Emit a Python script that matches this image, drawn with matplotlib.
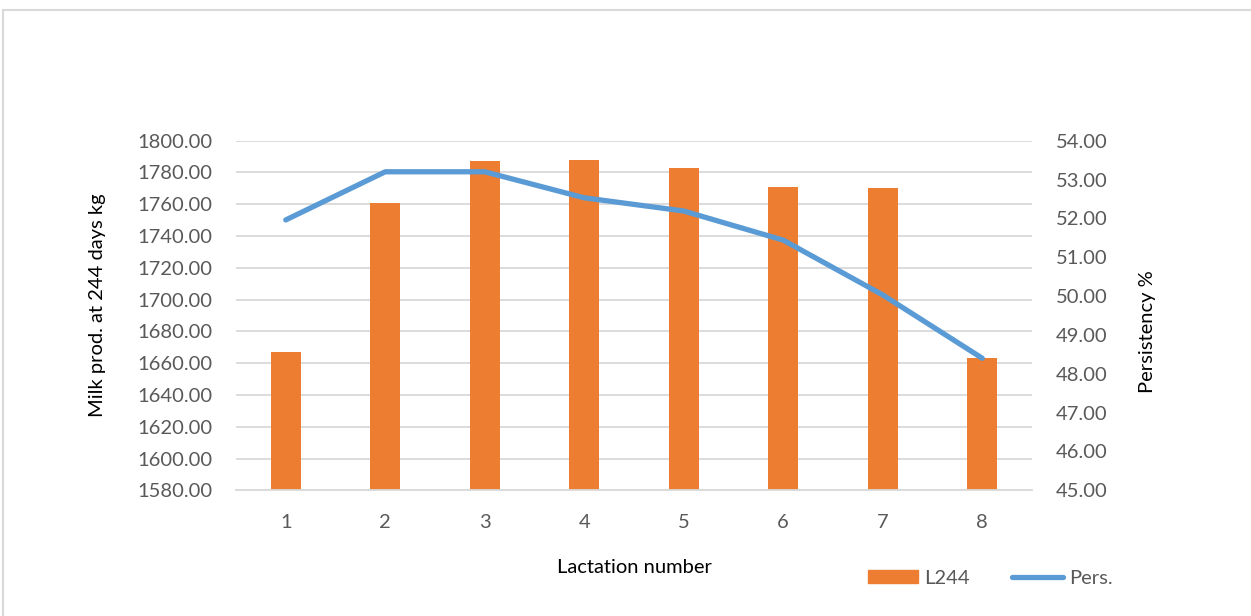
import matplotlib
matplotlib.use("Agg")
import matplotlib.pyplot as plt
from matplotlib.patches import Rectangle, Patch
from matplotlib.lines import Line2D

# Datos
lactation = [1, 2, 3, 4, 5, 6, 7, 8]
l244 = [1667, 1761, 1787, 1788, 1783, 1771, 1770, 1663]
persistency = [51.96, 53.20, 53.20, 52.53, 52.19, 51.44, 50.03, 48.40]

orange = "#ED7D31"
blue = "#5B9BD5"
grid_col = "#D9D9D9"
tick_col = "#595959"

plt.rcParams["font.family"] = ["Lato", "DejaVu Sans"]
fs = 14.5

fig = plt.figure(figsize=(12.51, 6.16), dpi=100)
ax = fig.add_axes([236 / 1251, 1 - 490.3 / 616, (1032 - 236) / 1251, (490.3 - 140.7) / 616])

# marco del gráfico (borde gris claro)
fig.patches.append(Rectangle((3 / 1251, -0.05), 1.2, 1 - 10 / 616 + 0.05, transform=fig.transFigure,
                             fill=False, edgecolor=grid_col, linewidth=1.5))

# --- Barras ---
ax.bar(lactation, l244, width=0.30, color=orange, zorder=2)
ax.set_xlim(0.5, 8.5)
ax.set_ylim(1580, 1800)
ax.set_yticks(range(1580, 1801, 20))
ax.set_yticklabels([f"{v:.2f}" for v in range(1580, 1801, 20)])
ax.set_xticks(lactation)
ax.grid(axis="y", color=grid_col, linewidth=1.3, zorder=0)
ax.set_axisbelow(True)
for s in ["top", "left", "right"]:
    ax.spines[s].set_visible(False)
ax.spines["bottom"].set_color(grid_col)
ax.spines["bottom"].set_linewidth(1.3)
ax.tick_params(axis="both", length=0, labelsize=fs, colors=tick_col)
ax.tick_params(axis="y", pad=17)
ax.tick_params(axis="x", pad=17)
ax.set_xlabel("Lactation number", fontsize=fs, color="black", labelpad=20)
fig.text(97 / 1251, 1 - 305 / 616, "Milk prod. at 244 days kg", rotation=90, fontsize=fs,
         ha="center", va="center", color="black")

# --- Línea de persistencia ---
ax2 = ax.twinx()
ax2.plot(lactation, persistency, color=blue, linewidth=3.8, solid_capstyle="round",
         solid_joinstyle="round", zorder=3)
ax2.set_ylim(45, 54)
ax2.set_yticks(range(45, 55))
ax2.set_yticklabels([f"{v:.2f}" for v in range(45, 55)])
for s in ax2.spines.values():
    s.set_visible(False)
ax2.tick_params(axis="y", length=0, labelsize=fs, colors=tick_col, pad=17)
fig.text(1147 / 1251, 1 - 332 / 616, "Persistency %", rotation=90, fontsize=fs,
         ha="center", va="center", color="black")

# --- Leyenda ---
handles = [Patch(facecolor=orange, edgecolor=orange),
           Line2D([], [], color=blue, linewidth=3.8, solid_capstyle="round")]
fig.legend(handles, ["L244", "Pers."], ncol=2, frameon=False, fontsize=fs,
           labelcolor=tick_col, loc="center left",
           bbox_to_anchor=(850 / 1251, 1 - 578 / 616), handlelength=2.5,
           handleheight=0.6, handletextpad=0.3, columnspacing=2.1)

fig.savefig("out.png", dpi=100)
